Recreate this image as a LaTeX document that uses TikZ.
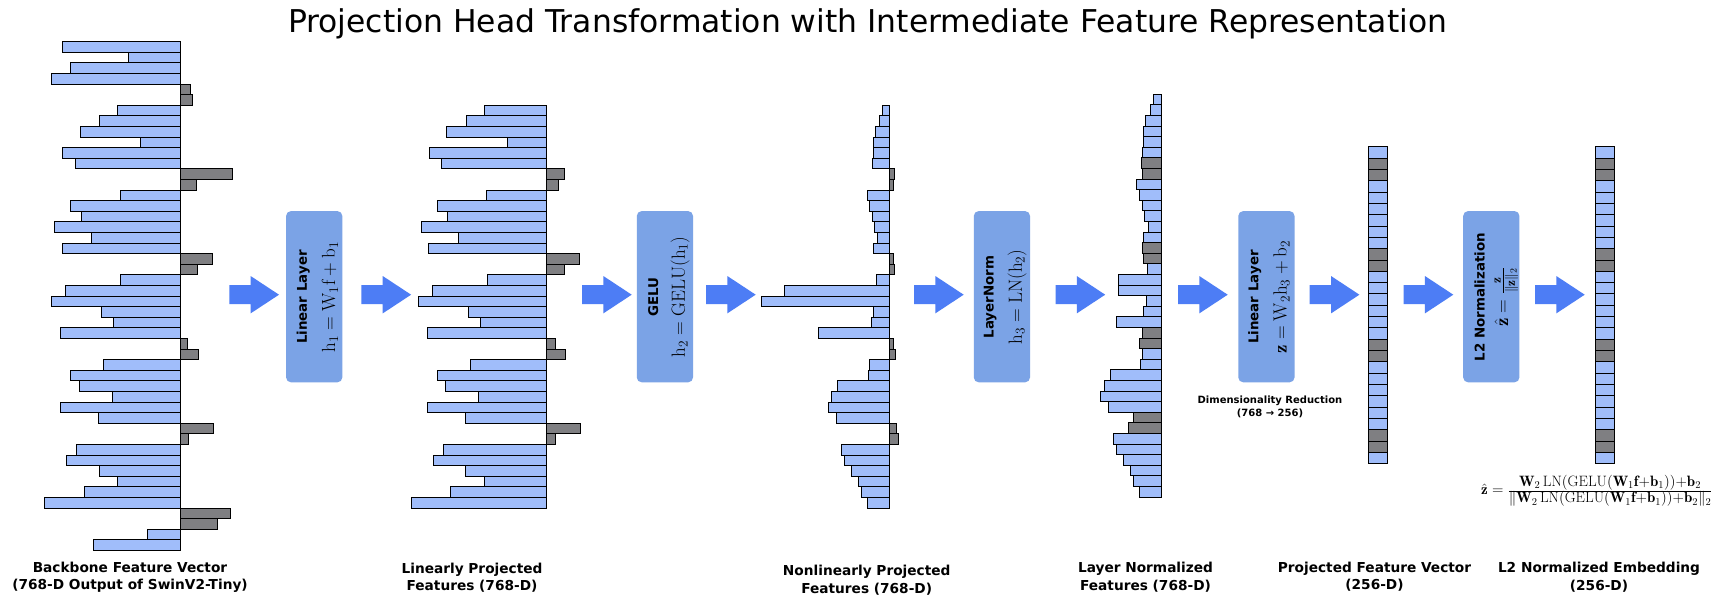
\RequirePackage{fix-cm}
\documentclass[tikz,border=0pt]{standalone}
\usepackage{fontspec}
\newfontfamily\dejavu{DejaVu Sans}
\definecolor{barblue}{HTML}{A0BDFA}
\definecolor{bargray}{HTML}{7F7F82}
\definecolor{opfill}{HTML}{7BA3E6}
\definecolor{flowblue}{HTML}{4D7DF5}

\tikzset{
  bluebar/.style={fill=barblue, draw=black, line width=1pt},
  graybar/.style={fill=bargray, draw=black, line width=1pt},
  opbox/.style={fill=opfill, draw=none, rounded corners=5pt, minimum width=56.3pt,
    minimum height=171.3pt, inner sep=0pt},
  optitle/.style={rotate=90, font=\dejavu\bfseries\fontsize{13.4}{16}\selectfont, inner sep=0pt},
  opmath/.style={rotate=90, font=\fontsize{19}{22}\selectfont, inner sep=0pt},
  caption/.style={font=\dejavu\bfseries\fontsize{13.7}{17.5}\selectfont, align=center, inner sep=0pt},
  blockarrow/.pic={\fill[flowblue] (0,-9.5) -- (21.3,-9.5) -- (21.3,-18.7) -- (49.7,0)
    -- (21.3,18.7) -- (21.3,9.5) -- (0,9.5) -- cycle;}
}

% #1 axis x, #2 top y, #3 row height, #4 index offset, #5 signed bar lengths
\newcommand\featurebars[5]{%
  \foreach \v [count=\i] in {#5} {
    \pgfmathtruncatemacro\k{mod(\i+#4,8)}
    \pgfmathsetmacro\yt{#2+(\i-1)*#3}
    \ifnum\k=5 \def\st{graybar}\else\ifnum\k=6 \def\st{graybar}\else\def\st{bluebar}\fi\fi
    \draw[\st] (#1,\yt) rectangle ++(\v,#3);
  }}

\begin{document}
\begin{tikzpicture}[x=1pt,y=-1pt]
\fill[white] (0,0) rectangle (1733,597);
\useasboundingbox (0,0) rectangle (1733,597);

\node[font=\dejavu\fontsize{31.4}{36}\selectfont, inner sep=0pt] (title) at (867.6,24)
  {Projection Head Transformation with Intermediate Feature Representation};

% backbone features
\featurebars{180}{41.7}{10.6}{0}{-117.7,-51.7,-110,-128.3,10,12.3,-62.7,-80.7,-100,-39.3,-117.7,-105,
  52.3,16.3,-60,-109.7,-99,-125.7,-88.7,-118,32.7,17.3,-59.3,-114.3,-128.3,-78.7,-66.7,-119.7,
  7.7,18.7,-76.7,-109.7,-101,-68,-119.3,-81.3,33.7,8.3,-103.7,-113.3,-81,-62.7,-96,-135.7,
  50,37.7,-32.3,-87}
% linear projection
\featurebars{546.8}{105.3}{10.6}{6}{-62.7,-80.7,-100,-39.3,-117.7,-105,17.7,12,-60,-109.7,-99,-125.7,
  -88.7,-118,33,18,-59.3,-114.3,-128.3,-78.7,-66.7,-119.7,8.7,19,-76.7,-109.7,-101,-68,-119.3,-81.3,
  34,9,-103.7,-113.3,-81,-62.7,-96,-135.7}
% after GELU
\featurebars{889.7}{105.3}{10.6}{6}{-7.7,-10.3,-14.3,-16,-16,-17,5,3.7,-22.3,-20,-17.3,-15.3,-12,-16.3,
  3.7,4.7,-13,-105,-128,-16.3,-18.7,-71.3,3.3,5.3,-20.3,-21.3,-52.3,-58,-61.3,-53.3,6.7,8.7,
  -48.7,-45.7,-38.7,-31.7,-28.3,-22.7}
% after LayerNorm
\featurebars{1161.7}{94.3}{10.6}{6}{-8.3,-11.7,-16.3,-18,-18,-19,-20,-19.3,-25,-22,-19.3,-17,-13.3,-18.3,
  -19,-18.3,-14.3,-43,-43,-15.7,-18.3,-45.7,-19.7,-22.7,-19.7,-21,-51.7,-57.3,-61,-53,-28,-33,
  -48,-45,-38.3,-31.3,-28.3,-22.3}
% 256-D vectors
\featurebars{1368.3}{146.7}{11.33}{3}{19,19,19,19,19,19,19,19,19,19,19,19,19,19,19,19,19,19,19,19,
  19,19,19,19,19,19,19,19}
\featurebars{1595.7}{146.7}{11.33}{3}{18.6,18.6,18.6,18.6,18.6,18.6,18.6,18.6,18.6,18.6,18.6,18.6,18.6,
  18.6,18.6,18.6,18.6,18.6,18.6,18.6,18.6,18.6,18.6,18.6,18.6,18.6,18.6,18.6}

% operation boxes
\node[opbox] (b1) at (314.2,296.7) {};
\node[opbox] (b2) at (664.9,296.7) {};
\node[opbox] (b3) at (1001.9,296.7) {};
\node[opbox] (b4) at (1266.4,296.7) {};
\node[opbox] (b5) at (1491.3,296.7) {};

\node[optitle] (t1) at (303.3,297) {Linear Layer};
\node[opmath] (m1) at (330,297) {$\mathrm{h}_1 = \mathrm{W}_1\mathrm{f} + \mathrm{b}_1$};
\node[optitle] (t2) at (653.3,297) {GELU};
\node[opmath] (m2) at (680,297) {$\mathrm{h}_2 = \mathrm{GELU}(\mathrm{h}_1)$};
\node[optitle] (t3) at (990.3,297) {LayerNorm};
\node[opmath] (m3) at (1017,297) {$\mathrm{h}_3 = \mathrm{LN}(\mathrm{h}_2)$};
\node[optitle] (t4) at (1254.8,297) {Linear Layer};
\node[opmath] (m4) at (1281.5,297) {$\mathbf{z} = \mathrm{W}_2\mathrm{h}_3 + \mathrm{b}_2$};
\node[optitle] (t5) at (1479.7,297) {L2 Normalization};
\node[opmath] (m5) at (1506.4,297) {$\hat{\mathbf{z}} = \frac{\mathbf{z}}{\|\mathbf{z}\|_2}$};

% flow arrows
\foreach \ax [count=\n] in {229.3,361.4,582,706,914,1055.5,1178,1309.7,1403.6,1535}
  \pic (arr\n) at (\ax,294.7) {blockarrow};

\node[font=\dejavu\bfseries\fontsize{10}{13}\selectfont, align=center, inner sep=0pt] (dimred)
  at (1270,407) {Dimensionality Reduction\\(768 → 256)};

\node[anchor=west, inner sep=0pt, font=\fontsize{15}{18}\selectfont] (fullexpr) at (1481,491)
  {$\hat{\mathbf{z}} = \frac{\textstyle \mathbf{W}_2\,\mathrm{LN}(\mathrm{GELU}(\mathbf{W}_1\mathbf{f}{+}\mathbf{b}_1)){+}\mathbf{b}_2}
   {\textstyle \|\mathbf{W}_2\,\mathrm{LN}(\mathrm{GELU}(\mathbf{W}_1\mathbf{f}{+}\mathbf{b}_1)){+}\mathbf{b}_2\|_2}$};

% stage captions
\node[caption] (c1) at (130,577.5) {Backbone Feature Vector\\(768-D Output of SwinV2-Tiny)};
\node[caption] (c2) at (472,577.5) {Linearly Projected\\Features (768-D)};
\node[caption] (c3) at (866.7,580) {Nonlinearly Projected\\Features (768-D)};
\node[caption] (c4) at (1145.5,577) {Layer Normalized\\Features (768-D)};
\node[caption] (c5) at (1374.5,576.5) {Projected Feature Vector\\(256-D)};
\node[caption] (c6) at (1599,577) {L2 Normalized Embedding\\(256-D)};
\end{tikzpicture}
\end{document}
